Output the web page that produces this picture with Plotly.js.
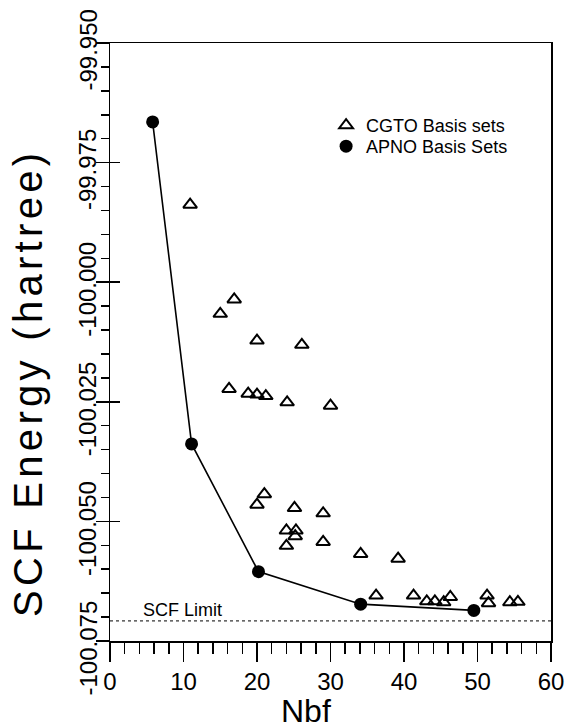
<!DOCTYPE html>
<html>
<head>
<meta charset="utf-8">
<script src="https://cdn.plot.ly/plotly-3.0.1.min.js"></script>
<style>html,body{margin:0;padding:0;background:#fff;}</style>
</head>
<body>
<div id="chart" style="width:573px;height:728px;"></div>
<script>
// CGTO basis sets (open triangles)
var cgtoNbf = [10.9, 16.9, 15.0, 20.0, 26.1, 16.2, 18.8, 20.0, 21.2, 24.1, 30.0, 21.0, 20.0, 25.1, 29.0, 24.0, 25.3, 25.2, 24.0, 29.0, 34.1, 39.2, 36.2, 41.3, 43.1, 44.2, 45.4, 46.3, 51.3, 51.5, 54.4, 55.5];
var cgtoEnergy = [-99.9838, -100.0036, -100.0066, -100.0122, -100.0131, -100.0223, -100.0233, -100.0235, -100.0238, -100.0251, -100.0258, -100.0443, -100.0465, -100.0472, -100.0483, -100.0519, -100.0519, -100.0531, -100.0551, -100.0543, -100.0568, -100.0578, -100.0655, -100.0655, -100.0667, -100.0667, -100.0669, -100.0658, -100.0655, -100.0671, -100.0669, -100.0668];
// APNO basis sets (filled circles joined by a line)
var apnoNbf = [5.8, 11.1, 20.2, 34.1, 49.5];
var apnoEnergy = [-99.9665, -100.0338, -100.0605, -100.0673, -100.0686];
// SCF limit
var scfLimit = -100.0708;
var limitNbf = [0, 60];
var legendNames = ["CGTO Basis sets", "APNO Basis Sets"];
// axis ticks
var xTickVals = [0, 10, 20, 30, 40, 50, 60];
var yTickVals = [-100.075, -100.050, -100.025, -100.000, -99.975, -99.950];
var yTickText = ["-100.075", "-100.050", "-100.025", "-100.000", "-99.975", "-99.950"];

var FONT = "Liberation Sans, Arial, Helvetica, sans-serif";

var traces = [
  {x: limitNbf, y: [scfLimit, scfLimit], xaxis: "x", yaxis: "y2", mode: "lines",
   line: {color: "#000", width: 1, dash: "dot"}, showlegend: false, hoverinfo: "skip"},
  {x: apnoNbf, y: apnoEnergy, mode: "lines", line: {color: "#000", width: 1.6},
   showlegend: false, hoverinfo: "skip"},
  {x: cgtoNbf, y: cgtoEnergy, mode: "markers", name: legendNames[0], legend: "legend",
   marker: {symbol: "triangle-up-open", size: 12, color: "#000", line: {color: "#000", width: 2}}},
  {x: apnoNbf, y: apnoEnergy, mode: "markers", name: legendNames[1], legend: "legend2",
   marker: {symbol: "circle", size: 13, color: "#000"}}
];

var yr = [-100.075, -99.95];
var legFont = {family: FONT, size: 18, color: "#000"};

var annotations = [
  {text: "SCF Energy (hartree)", xref: "paper", yref: "paper", x: (28 - 110) / 441, y: (641 - 383) / 598,
   xanchor: "center", yanchor: "middle", textangle: -90, showarrow: false,
   font: {family: FONT, size: 40, color: "#000"}},
  {text: "Nbf", xref: "paper", yref: "paper", x: (306 - 110) / 441, y: (641 - 711) / 598,
   xanchor: "center", yanchor: "middle", showarrow: false,
   font: {family: FONT, size: 32, color: "#000"}},
  {text: "SCF Limit", xref: "x", yref: "y", x: 4.2, y: -100.0685,
   xanchor: "left", yanchor: "middle", showarrow: false,
   font: {family: FONT, size: 18, color: "#000"}}
];
// rotated y tick labels, one per tick value
yTickVals.forEach(function (v, i) {
  annotations.push({text: yTickText[i], xref: "paper", yref: "y", x: (87.5 - 110) / 441, y: v,
    xanchor: "center", yanchor: "middle", yshift: -7, textangle: -90, showarrow: false,
    font: {family: FONT, size: 24, color: "#000"}});
});

var layout = {
  width: 573, height: 728,
  margin: {l: 110, r: 22, t: 43, b: 87},
  paper_bgcolor: "#fff", plot_bgcolor: "#fff",
  font: {family: FONT, color: "#000"},
  showlegend: true,
  legend: {x: 0.49, y: (641 - 107) / 598, xanchor: "left", yanchor: "top", bgcolor: "rgba(0,0,0,0)",
           font: legFont, itemwidth: 30},
  legend2: {x: 0.49, y: (641 - 128) / 598, xanchor: "left", yanchor: "top", bgcolor: "rgba(0,0,0,0)",
           font: legFont, itemwidth: 30},
  xaxis: {range: [0, 60], tickmode: "array", tickvals: xTickVals,
          ticks: "outside", ticklen: 19, tickwidth: 1.5, tickcolor: "#000",
          minor: {ticks: "outside", dtick: 2, ticklen: 11, tickwidth: 1.5, tickcolor: "#000", showgrid: false},
          showline: true, linewidth: 1.5, linecolor: "#000", mirror: true,
          showgrid: false, zeroline: false,
          tickfont: {family: FONT, size: 24, color: "#000"}},
  yaxis: {range: yr, tickmode: "array", tickvals: yTickVals, showticklabels: false,
          ticks: "outside", ticklen: 13, tickwidth: 1.5, tickcolor: "#000",
          minor: {ticks: "outside", tickmode: "linear", tick0: -100.075, dtick: 0.005, ticklen: 8, tickwidth: 1.5, tickcolor: "#000", showgrid: false},
          showline: true, linewidth: 1.5, linecolor: "#000", mirror: true,
          showgrid: false, zeroline: false},
  yaxis2: {range: yr, overlaying: "y", side: "left", tickmode: "array", tickvals: yTickVals,
           ticks: "inside", ticklen: 10, tickwidth: 1.5, tickcolor: "#000",
           showticklabels: false, showgrid: false, zeroline: false, showline: false},
  annotations: annotations
};

Plotly.newPlot("chart", traces, layout, {staticPlot: true, displayModeBar: false}).then(function () {
  // the original lettering of the y title is wider than Arial: widen the spacing
  var t = document.querySelectorAll(".annotation-text");
  t.forEach(function (el) {
    if (el.textContent.indexOf("SCF Energy") === 0) {
      el.style.letterSpacing = "4.3px";
    }
  });
});
</script>
</body>
</html>
